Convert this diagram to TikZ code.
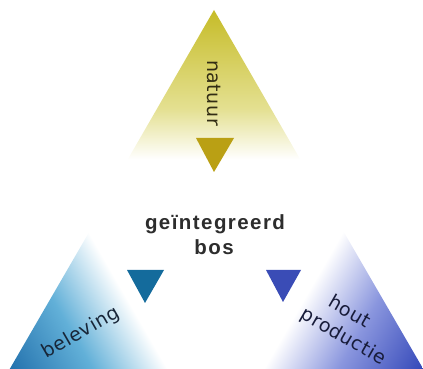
\documentclass[tikz,border=0pt]{standalone}
\usepackage{fontspec}
\setmainfont{Liberation Sans}
\newfontfamily\lblfont[LetterSpace=3]{DejaVu Sans}
\newfontfamily\lblbold[LetterSpace=7]{Liberation Sans Bold}
\definecolor{yelD}{RGB}{198,188,40}
\definecolor{yelP}{RGB}{228,224,145}
\definecolor{yelS}{RGB}{186,160,20}
\definecolor{bluD}{RGB}{34,112,172}
\definecolor{bluM}{RGB}{98,176,216}
\definecolor{bluS}{RGB}{20,107,156}
\definecolor{purD}{RGB}{52,72,185}
\definecolor{purM}{RGB}{138,150,222}
\definecolor{purS}{RGB}{58,76,182}
\definecolor{txtC}{RGB}{45,45,45}
\definecolor{txtY}{RGB}{50,45,20}
\definecolor{txtB}{RGB}{24,38,56}
\definecolor{txtP}{RGB}{24,28,58}
\pgfdeclareverticalshading{yelsh}{100bp}{color(0bp)=(white); color(28bp)=(white); color(44bp)=(yelP); color(75bp)=(yelD); color(100bp)=(yelD)}
\pgfdeclarehorizontalshading{blush}{100bp}{color(0bp)=(bluD); color(25bp)=(bluD); color(50bp)=(bluM); color(72bp)=(white); color(100bp)=(white)}
\pgfdeclarehorizontalshading{pursh}{100bp}{color(0bp)=(purD); color(25bp)=(purD); color(50bp)=(purM); color(72bp)=(white); color(100bp)=(white)}
\tikzset{
  lbl/.style={inner sep=0pt, font=\lblfont\fontsize{19}{22}\selectfont},
  ctr/.style={inner sep=0pt, text=txtC, font=\lblbold\fontsize{20.5}{24}\selectfont}
}
\begin{document}
\begin{tikzpicture}[x=1pt,y=1pt]
\useasboundingbox (0,0) rectangle (423,369);
% top triangle
\begin{scope}
\clip (214,359) -- (122.2,200) -- (305.8,200) -- cycle;
\shade[shading=yelsh] (122,200) rectangle (306,359);
\end{scope}
% left triangle
\begin{scope}
\clip (95,147) -- (8,-3) -- (182,-3) -- cycle;
\begin{scope}[transform canvas={shift={(8,0)},rotate=30}]
\shade[shading=blush] (0,-250) rectangle (147,250);
\end{scope}
\end{scope}
% right triangle
\begin{scope}
\clip (338,147) -- (253,-3) -- (425,-3) -- cycle;
\begin{scope}[transform canvas={shift={(423,0)},rotate=150}]
\shade[shading=pursh] (0,-250) rectangle (147,250);
\end{scope}
\end{scope}
% small triangles
\fill[yelS] (196,231) -- (234,231) -- (214,197) -- cycle;
\fill[bluS] (127,99) -- (164,99) -- (145,66) -- cycle;
\fill[purS] (266,99) -- (301,99) -- (283,67) -- cycle;
% labels
\node[lbl, text=txtY, rotate=-90] (nat) at (214,276) {natuur};
\node[ctr, anchor=base] (geo) at (215,139) {geïntegreerd};
\node[ctr, anchor=base] (bos) at (214,114) {bos};
\node[lbl, text=txtB, rotate=30] (bel) at (81,36) {beleving};
\node[lbl, text=txtP, rotate=-30] (hout) at (350,58) {hout};
\node[lbl, text=txtP, rotate=-30] (prod) at (343,32) {productie};
\end{tikzpicture}
\end{document}
